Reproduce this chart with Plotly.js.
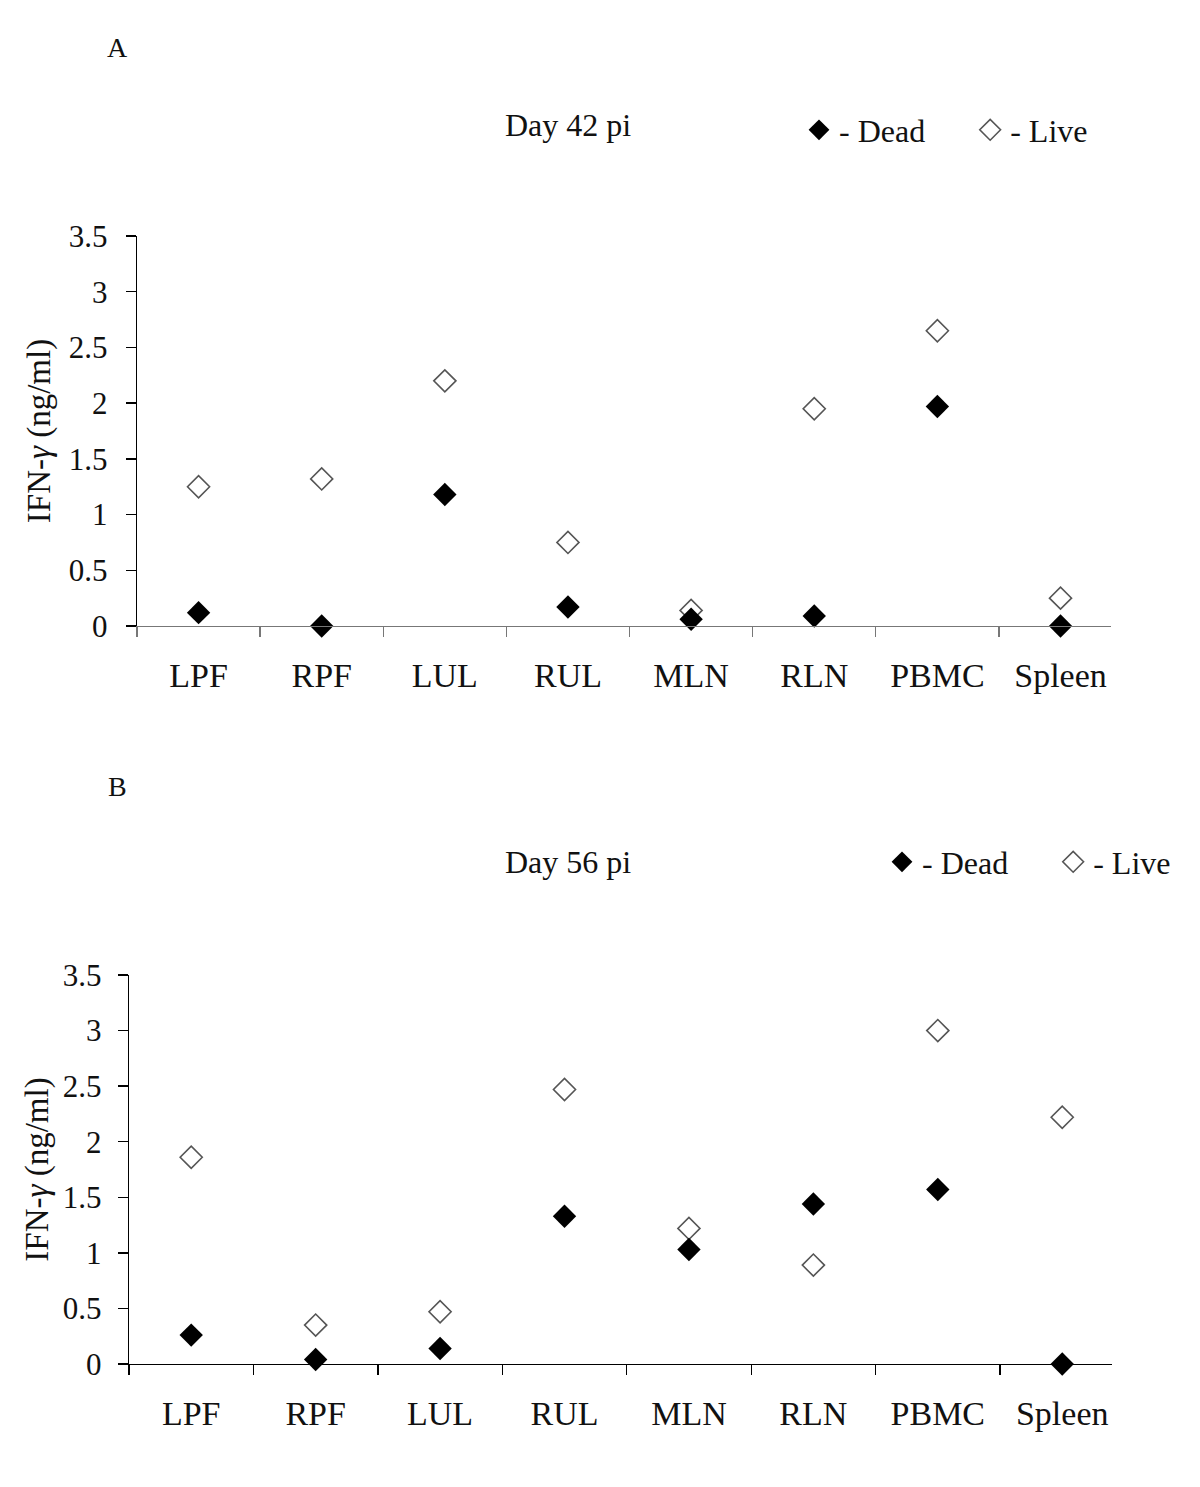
<!DOCTYPE html>
<html><head><meta charset="utf-8">
<script src="https://cdn.plot.ly/plotly-3.0.1.min.js"></script>
<style>html,body{margin:0;padding:0;background:#fff}#chart{width:1200px;height:1487px}</style>
</head><body><div id="chart"></div>
<script>
const tissues = ['LPF','RPF','LUL','RUL','MLN','RLN','PBMC','Spleen'];
const day42Dead = [0.12, 0.00, 1.18, 0.17, 0.06, 0.09, 1.97, 0.00];
const day42Live = [1.25, 1.32, 2.20, 0.75, 0.14, 1.95, 2.65, 0.25];
const day56Dead = [0.26, 0.04, 0.14, 1.33, 1.03, 1.44, 1.57, 0.00];
const day56Live = [1.86, 0.35, 0.47, 2.47, 1.22, 0.89, 3.00, 2.22];
const yTickVals = [0, 0.5, 1, 1.5, 2, 2.5, 3, 3.5];
const yTickText = ['0', '0.5', '1', '1.5', '2', '2.5', '3', '3.5'];
const seriesNames = ['- Dead', '- Live'];
const panelTitles = ['Day 42 pi', 'Day 56 pi'];
const panelLetters = ['A', 'B'];
const yTitle = 'IFN-<i>γ</i> (ng/ml)';

const W = 1200, H = 1487;
const FONT = 'Liberation Serif, Times New Roman, serif';
const px = v => v / W;
const py = v => 1 - v / H;
const PAD = '\u00a0\u00a0\u00a0\u00a0\u00a0';

const liveMarker = {symbol: 'diamond', size: 17, color: '#ffffff', line: {color: '#555555', width: 1.6}};
const deadMarker = {symbol: 'diamond', size: 18, color: '#000000', line: {color: '#000000', width: 0}};

const traces = [
  {type: 'scatter', mode: 'markers', name: seriesNames[1], x: tissues, y: day42Live, xaxis: 'x', yaxis: 'y', marker: liveMarker, legend: 'legend', legendrank: 2, cliponaxis: false},
  {type: 'scatter', mode: 'markers', name: seriesNames[0] + PAD, x: tissues, y: day42Dead, xaxis: 'x', yaxis: 'y', marker: deadMarker, legend: 'legend', legendrank: 1, cliponaxis: false},
  {type: 'scatter', mode: 'markers', name: seriesNames[1], x: tissues, y: day56Live, xaxis: 'x2', yaxis: 'y2', marker: liveMarker, legend: 'legend2', legendrank: 2, cliponaxis: false},
  {type: 'scatter', mode: 'markers', name: seriesNames[0] + PAD, x: tissues, y: day56Dead, xaxis: 'x2', yaxis: 'y2', marker: deadMarker, legend: 'legend2', legendrank: 1, cliponaxis: false}
];

function xAxis(domain, range, color, anchor) {
  return {
    domain: domain, range: range, type: 'category', anchor: anchor,
    showline: true, linecolor: color, linewidth: 1.3, mirror: false,
    showgrid: false, zeroline: false,
    ticks: 'outside', tickson: 'boundaries', ticklen: 10, tickwidth: 1.3, tickcolor: color,
    ticklabelstandoff: 19,
    tickfont: {family: FONT, size: 34, color: '#111'}
  };
}
function yAxis(domain, anchor, labelStandoff, titleStandoff) {
  return {
    domain: domain, range: [0, 3.5], anchor: anchor,
    showline: true, linecolor: '#000', linewidth: 1.3,
    showgrid: false, zeroline: false,
    ticks: 'outside', ticklen: 10, tickwidth: 1.3, tickcolor: '#000',
    tickmode: 'array', tickvals: yTickVals, ticktext: yTickText,
    ticklabelstandoff: labelStandoff,
    tickfont: {family: FONT, size: 31, color: '#111'},
    title: {text: yTitle, font: {family: FONT, size: 33, color: '#111'}, standoff: titleStandoff}
  };
}

function legendBox(xLeft, yMid) {
  return {orientation: 'h', x: px(xLeft), y: py(yMid), xanchor: 'left', yanchor: 'middle',
          font: {family: FONT, size: 32, color: '#111'}, bgcolor: 'rgba(0,0,0,0)',
          traceorder: 'normal', borderwidth: 0};
}

const layout = {
  width: W, height: H,
  margin: {l: 0, r: 0, t: 0, b: 0},
  paper_bgcolor: '#fff', plot_bgcolor: '#fff',
  showlegend: true,
  xaxis: xAxis([px(137), px(1111)], [-0.5, 7.41], '#777', 'y'),
  yaxis: yAxis([py(626), py(236)], 'x', 12, 8),
  xaxis2: xAxis([px(129), px(1112)], [-0.5, 7.40], '#000', 'y2'),
  yaxis2: yAxis([py(1364), py(975)], 'x2', 10, 4),
  legend: legendBox(799, 130),
  legend2: legendBox(882, 862),
  annotations: [
    {text: panelLetters[0], xref: 'paper', yref: 'paper', x: px(117), y: py(47), xanchor: 'center', yanchor: 'middle', showarrow: false, font: {family: FONT, size: 28, color: '#111'}},
    {text: panelLetters[1], xref: 'paper', yref: 'paper', x: px(117), y: py(786), xanchor: 'center', yanchor: 'middle', showarrow: false, font: {family: FONT, size: 28, color: '#111'}},
    {text: panelTitles[0], xref: 'paper', yref: 'paper', x: px(568), y: py(125), xanchor: 'center', yanchor: 'middle', showarrow: false, font: {family: FONT, size: 32, color: '#111'}},
    {text: panelTitles[1], xref: 'paper', yref: 'paper', x: px(568), y: py(862), xanchor: 'center', yanchor: 'middle', showarrow: false, font: {family: FONT, size: 32, color: '#111'}}
  ]
};

Plotly.newPlot('chart', traces, layout, {displayModeBar: false, staticPlot: true});
</script>
</body></html>
